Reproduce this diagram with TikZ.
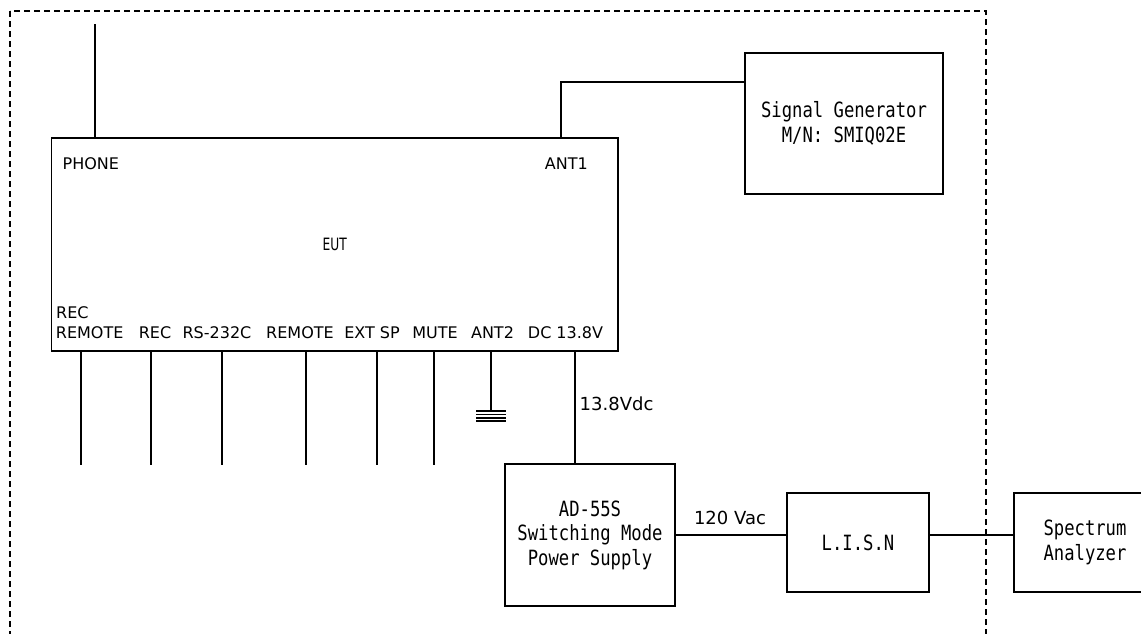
\documentclass[tikz,border=0pt]{standalone}
\usepackage{fontspec}
\setmainfont{DejaVu Sans}
\newfontfamily\monofont[FakeStretch=0.82]{DejaVu Sans Mono}
\newfontfamily\eutfont[FakeStretch=0.72]{DejaVu Sans}
\begin{document}
\begin{tikzpicture}[x=1pt,y=-1pt,
  box/.style={draw, line width=1.4pt, rectangle, inner sep=0pt, align=center,
    font=\monofont\fontsize{21}{24.5}\selectfont},
  lbl/.style={inner sep=0pt, font=\fontsize{16}{20}\selectfont},
  biglbl/.style={inner sep=0pt, font=\fontsize{18}{22}\selectfont},
  wire/.style={line width=1.5pt},
  gndline/.style={line width=1.8pt},
  boundary/.style={line width=1.3pt, dash pattern=on 6pt off 4pt}]
\useasboundingbox (0,0) rectangle (1141,633);
\clip (0,0) rectangle (1141,633);
% test-site boundary
\draw[boundary] (10,11) rectangle (986,660);
% boxes
\node[draw, line width=1.4pt, inner sep=0pt, minimum width=566.5pt, minimum height=213pt,
      font=\eutfont\fontsize{17}{20}\selectfont] (eut) at (334.75,244.5) {EUT};
\node[box, minimum width=198pt, minimum height=141pt] (siggen) at (844,123.5)
  {Signal Generator\\M/N: SMIQ02E};
\node[box, minimum width=170pt, minimum height=142pt] (psu) at (590,535)
  {AD-55S\\Switching Mode\\Power Supply};
\node[box, minimum width=142pt, minimum height=99pt] (lisn) at (858,542.5) {L.I.S.N};
\node[box, minimum width=142pt, minimum height=99pt] (spec) at (1085,542.5)
  {Spectrum\\Analyzer};
% port labels
\node[lbl, anchor=base west] (lphone) at (62.5,169.5) {PHONE};
\node[lbl, anchor=base east] (lant1) at (588,169.5) {ANT1};
\node[lbl, anchor=base west] (lrec1) at (56,318.5) {REC};
\node[lbl, anchor=base] (lrem1) at (89.7,338.5) {REMOTE};
\node[lbl, anchor=base] (lrec) at (155,338.5) {REC};
\node[lbl, anchor=base] (lrs) at (217,338.5) {RS-232C};
\node[lbl, anchor=base] (lrem2) at (300,338.5) {REMOTE};
\node[lbl, anchor=base] (lext) at (372,338.5) {EXT SP};
\node[lbl, anchor=base] (lmute) at (435,338.5) {MUTE};
\node[lbl, anchor=base] (lant2) at (492.5,338.5) {ANT2};
\node[lbl, anchor=base] (ldc) at (565.5,338.5) {DC 13.8V};
% wire labels
\node[biglbl, anchor=base west] (l138) at (579.5,410) {13.8Vdc};
\node[biglbl, anchor=base] (l120) at (730,524.5) {120 Vac};
% free ends
\coordinate (phonetop) at (95,24);
\coordinate (a1) at (561,82);
\coordinate (c1) at (81,465);
\coordinate (c2) at (151,465);
\coordinate (c3) at (222,465);
\coordinate (c4) at (306,465);
\coordinate (c5) at (377,465);
\coordinate (c6) at (434,465);
\coordinate (gnd) at (491,410);
\coordinate (dc) at (575,464);
% connectors
\draw[wire] (phonetop |- eut.north) -- (phonetop);
\draw[wire] (a1 |- eut.north) -- (a1) -- (a1 -| siggen.west);
\foreach \c in {c1,c2,c3,c4,c5,c6}
  \draw[wire] (\c |- eut.south) -- (\c);
\draw[wire] (gnd |- eut.south) -- (gnd);
\foreach \dy in {1.2,4.5,7.8,11.1}
  \draw[gndline] ([xshift=-15pt,yshift=-\dy pt]gnd) -- ([xshift=15pt,yshift=-\dy pt]gnd);
\draw[wire] (dc |- eut.south) -- (dc |- psu.north);
\draw[wire] (psu.east) -- (psu.east -| lisn.west);
\draw[wire] (psu.east -| lisn.east) -- (psu.east -| spec.west);
\end{tikzpicture}
\end{document}
